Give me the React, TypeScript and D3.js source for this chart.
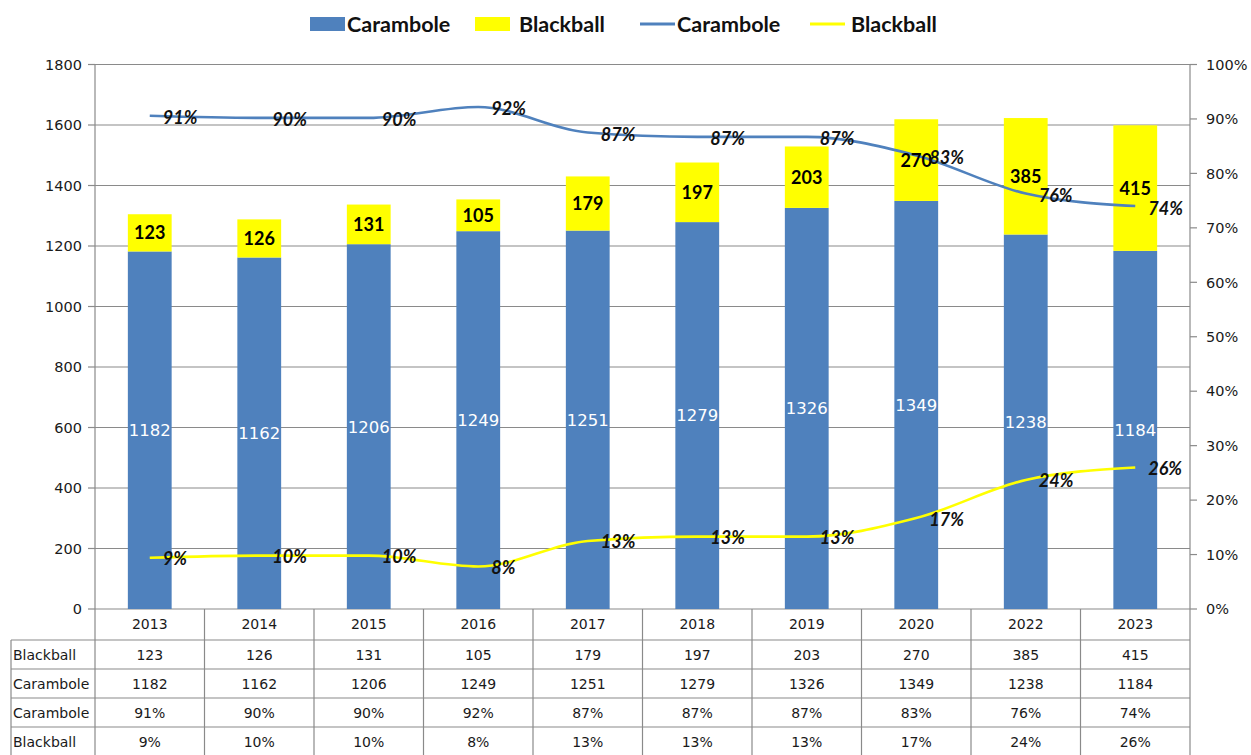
import React from "react";
import * as d3 from "d3";

const years = ["2013", "2014", "2015", "2016", "2017", "2018", "2019", "2020", "2022", "2023"];
const carambole = [1182, 1162, 1206, 1249, 1251, 1279, 1326, 1349, 1238, 1184];
const blackball = [123, 126, 131, 105, 179, 197, 203, 270, 385, 415];
const caramboleShare = [0.906, 0.902, 0.902, 0.922, 0.875, 0.867, 0.867, 0.833, 0.763, 0.740];
const blackballShare = [0.094, 0.098, 0.098, 0.078, 0.125, 0.133, 0.133, 0.167, 0.237, 0.260];
const caramboleShareLabels = [91, 90, 90, 92, 87, 87, 87, 83, 76, 74];
const blackballShareLabels = [9, 10, 10, 8, 13, 13, 13, 17, 24, 26];
const leftTicks = [0, 200, 400, 600, 800, 1000, 1200, 1400, 1600, 1800];
const rightTicks = [0, 0.1, 0.2, 0.3, 0.4, 0.5, 0.6, 0.7, 0.8, 0.9, 1.0];

const BLUE = "#4F81BD";
const YELLOW = "#FFFF00";
const GRID = "#8a8a8a";
const TXT = "#1a1a1a";
const FONT = "'DejaVu Sans', Verdana, sans-serif";
const LFONT = "Lato, 'Open Sans', sans-serif";

export default function App() {
  const W = 1251, H = 755;
  const left = 95, right = 1190, top = 64.5, bottom = 609;
  const x = d3.scaleBand<string>().domain(years).range([left, right]).paddingInner(0).paddingOuter(0);
  const bw = x.bandwidth() * 0.4;
  const y = d3.scaleLinear().domain([0, 1800]).range([bottom, top]);
  const y2 = d3.scaleLinear().domain([0, 1]).range([bottom, top]);
  const cx = (i: number) => (x(years[i]) as number) + x.bandwidth() / 2;

  const line = d3
    .line<number>()
    .x((_, i) => cx(i))
    .y((d) => y2(d))
    .curve(d3.curveMonotoneX);

  const rowTop = 640;
  const rowH = 29;
  const tableRows = [
    { label: "Blackball", vals: blackball.map(String) },
    { label: "Carambole", vals: carambole.map(String) },
    { label: "Carambole", vals: caramboleShareLabels.map((v) => v + "%") },
    { label: "Blackball", vals: blackballShareLabels.map((v) => v + "%") },
  ];

  const legend = [
    { type: "rect", color: BLUE, label: "Carambole", sx: 310, tx: 347 },
    { type: "rect", color: YELLOW, label: "Blackball", sx: 475, tx: 519 },
    { type: "line", color: BLUE, label: "Carambole", sx: 640, tx: 677 },
    { type: "line", color: YELLOW, label: "Blackball", sx: 810, tx: 851 },
  ];

  return (
    <svg width={W} height={H} style={{ position: "absolute", left: 0, top: 0, background: "#fff" }}>
      {/* gridlines */}
      {leftTicks.map((t) => (
        <line key={"g" + t} x1={left} x2={right} y1={y(t)} y2={y(t)} stroke={GRID} strokeWidth={1.2} />
      ))}
      {/* bars */}
      {years.map((yr, i) => {
        const bx = cx(i) - bw / 2;
        return (
          <g key={"b" + yr}>
            <rect x={bx} width={bw} y={y(carambole[i])} height={y(0) - y(carambole[i])} fill={BLUE} />
            <rect
              x={bx}
              width={bw}
              y={y(carambole[i] + blackball[i])}
              height={y(carambole[i]) - y(carambole[i] + blackball[i])}
              fill={YELLOW}
            />
          </g>
        );
      })}
      {/* axes */}
      <line x1={left} x2={left} y1={top} y2={bottom} stroke={GRID} strokeWidth={1.2} />
      <line x1={right} x2={right} y1={top} y2={bottom} stroke={GRID} strokeWidth={1.2} />
      {leftTicks.map((t) => (
        <g key={"lt" + t}>
          <line x1={left - 7} x2={left} y1={y(t)} y2={y(t)} stroke={GRID} strokeWidth={1.2} />
          <text x={82} y={y(t)} dy="0.36em" textAnchor="end" fontFamily={FONT} fontSize={14.5} fill={TXT}>
            {t}
          </text>
        </g>
      ))}
      {rightTicks.map((t) => (
        <g key={"rt" + t}>
          <line x1={right} x2={right + 7} y1={y2(t)} y2={y2(t)} stroke={GRID} strokeWidth={1.2} />
          <text x={1206} y={y2(t)} dy="0.36em" textAnchor="start" fontFamily={FONT} fontSize={14.5} fill={TXT}>
            {Math.round(t * 100) + "%"}
          </text>
        </g>
      ))}
      {/* lines */}
      <path d={line(caramboleShare) || ""} fill="none" stroke={BLUE} strokeWidth={2.6} />
      <path d={line(blackballShare) || ""} fill="none" stroke={YELLOW} strokeWidth={2.6} />
      {/* bar labels */}
      {years.map((yr, i) => (
        <g key={"bl" + yr}>
          <text
            x={cx(i)}
            y={y(carambole[i] / 2)}
            dy="0.36em"
            textAnchor="middle"
            fontFamily={FONT}
            fontSize={16.5}
            fill="#fff"
          >
            {carambole[i]}
          </text>
          <text
            x={cx(i)}
            y={y(carambole[i] + blackball[i] / 2)}
            dy="0.36em"
            textAnchor="middle"
            fontFamily={LFONT}
            fontWeight="bold"
            fontSize={18}
            fill="#000"
          >
            {blackball[i]}
          </text>
        </g>
      ))}
      {/* line labels */}
      {years.map((yr, i) => (
        <g key={"ll" + yr}>
          <text
            x={cx(i) + 13}
            y={y2(caramboleShare[i]) + 2}
            dy="0.36em"
            fontFamily={LFONT}
            fontWeight="bold"
            fontStyle="italic"
            fontSize={18}
            fill="#111"
          >
            {caramboleShareLabels[i] + "%"}
          </text>
          <text
            x={cx(i) + 13}
            y={y2(blackballShare[i]) + 1}
            dy="0.36em"
            fontFamily={LFONT}
            fontWeight="bold"
            fontStyle="italic"
            fontSize={18}
            fill="#111"
          >
            {blackballShareLabels[i] + "%"}
          </text>
        </g>
      ))}
      {/* data table */}
      <g>
        {years.map((yr, i) => (
          <text
            key={"ty" + yr}
            x={cx(i)}
            y={(bottom + rowTop) / 2 - 1}
            dy="0.36em"
            textAnchor="middle"
            fontFamily={FONT}
            fontSize={14}
            fill={TXT}
          >
            {yr}
          </text>
        ))}
        {d3.range(years.length + 1).map((k) => {
          const xx = left + k * x.bandwidth();
          return <line key={"tv" + k} x1={xx} x2={xx} y1={bottom} y2={H} stroke={GRID} strokeWidth={1.2} />;
        })}
        <line x1={11} x2={11} y1={rowTop} y2={H} stroke={GRID} strokeWidth={1.2} />
        {d3.range(tableRows.length + 1).map((r) => (
          <line
            key={"th" + r}
            x1={11}
            x2={right}
            y1={rowTop + r * rowH}
            y2={rowTop + r * rowH}
            stroke={GRID}
            strokeWidth={1.2}
          />
        ))}
        {tableRows.map((row, r) => (
          <g key={"tr" + r}>
            <text
              x={13}
              y={rowTop + r * rowH + rowH / 2}
              dy="0.36em"
              fontFamily={FONT}
              fontSize={14}
              fill={TXT}
            >
              {row.label}
            </text>
            {row.vals.map((v, i) => (
              <text
                key={"tc" + r + "-" + i}
                x={cx(i)}
                y={rowTop + r * rowH + rowH / 2}
                dy="0.36em"
                textAnchor="middle"
                fontFamily={FONT}
                fontSize={14}
                fill={TXT}
              >
                {v}
              </text>
            ))}
          </g>
        ))}
      </g>
      {/* legend */}
      {legend.map((l, i) => (
        <g key={"lg" + i}>
          {l.type === "rect" ? (
            <rect x={l.sx} y={17} width={35} height={14} fill={l.color} />
          ) : (
            <line x1={l.sx} x2={l.sx + 35} y1={24} y2={24} stroke={l.color} strokeWidth={3} />
          )}
          <text x={l.tx} y={24} dy="0.36em" fontFamily={LFONT} fontWeight="bold" fontSize={21.5} fill="#111">
            {l.label}
          </text>
        </g>
      ))}
    </svg>
  );
}
